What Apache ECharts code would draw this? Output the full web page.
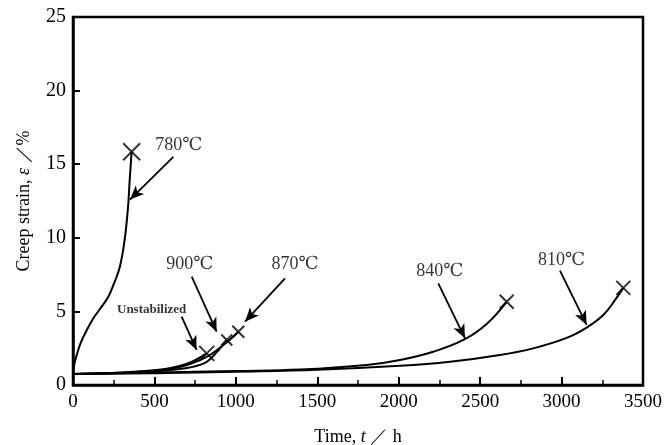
<!DOCTYPE html>
<html>
<head>
<meta charset="utf-8">
<script src="https://cdn.jsdelivr.net/npm/echarts@6/dist/echarts.min.js"></script>
<style>html,body{margin:0;padding:0;background:#fff;}#c{width:666px;height:445px;}</style>
</head>
<body>
<div id="c"></div>
<script>
// ---- data (time h, creep strain %) ----
const s780 = [[0,0.8],[8,1.4],[23,2.04],[45,2.8],[74,3.5],[125,4.53],[176,5.32],[217,6.0],[250,6.85],[287,8.0],[317,9.85],[338,12.1],[348,13.9],[360,15.85]];
const sUnstab = [[0,0.75],[300,0.85],[500,1.0],[600,1.15],[700,1.45],[760,1.75],[821,2.15]];
const s900 = [[0,0.75],[300,0.82],[500,0.93],[600,1.02],[700,1.15],[801,1.45],[841,1.75],[880,2.2],[915,2.65],[944,3.06]];
const s870 = [[0,0.75],[300,0.84],[500,0.97],[600,1.1],[700,1.35],[780,1.7],[841,2.04],[923,2.72],[970,3.15],[1015,3.62]];
const s840 = [[0,0.75],[500,0.85],[1000,0.95],[1394,1.05],[1803,1.36],[2008,1.7],[2212,2.26],[2397,3.06],[2540,4.15],[2663,5.65]];
const s810 = [[0,0.75],[500,0.8],[1000,0.9],[1500,1.03],[2008,1.3],[2315,1.58],[2622,2.04],[2826,2.49],[3031,3.2],[3154,3.9],[3256,4.75],[3330,5.8],[3379,6.6]];
const xTicks = [0,500,1000,1500,2000,2500,3000,3500];
const yTicks = [0,5,10,15,20,25];
// annotations (data coordinates)
const labelTexts = ['780℃','900℃','870℃','840℃','810℃','Unstabilized'];
const labelPos = [[650,16.3],[718,8.2],[1363,8.2],[2253,7.7],[3000,8.5],[483,5.14]];
const arrowFrom = [[616,15.5],[729,7.36],[1302,7.25],[2243,6.9],[2990,7.77],[667,4.64]];
const arrowTo = [[350,12.6],[882,3.62],[1056,4.3],[2407,3.17],[3154,4.08],[759,2.38]];
const endSizes = [17,11,12,14,14,15];

const curves = [s780, s900, s870, s840, s810, sUnstab];
const serif = '"Liberation Serif","DejaVu Serif",serif';
const crossPath = 'path://M0,0L10,10M10,0L0,10';

const series = curves.map(d => ({
  type:'line', data:d, showSymbol:false, smooth:0.4,
  lineStyle:{color:'#000', width:2}, silent:true, animation:false
}));
series.push({
  type:'scatter', animation:false, silent:true,
  data: curves.map((d,i)=>({value:d[d.length-1], symbolSize:endSizes[i]})),
  symbol: crossPath,
  itemStyle:{color:'none', borderColor:'#000', borderWidth:2}
});
series.push({
  type:'scatter', animation:false, silent:true, symbolSize:0,
  data: labelTexts.map((t,i)=>({value:labelPos[i], name:t,
    label: i===5 ? {fontSize:13, fontWeight:'bold'} : {}})),
  label:{show:true, position:'inside', formatter:p=>p.name, color:'#000', fontSize:18, fontFamily:serif},
  markLine:{
    silent:true, animation:false,
    symbol:['none','arrow'], symbolSize:[9,14],
    lineStyle:{color:'#000', width:1.8, type:'solid'},
    label:{show:false},
    data: arrowFrom.map((f,i)=>[{coord:f},{coord:arrowTo[i]}])
  }
});

const chart = echarts.init(document.getElementById('c'), null, {renderer:'canvas'});
chart.setOption({
  backgroundColor:'#fff',
  animation:false,
  grid:{left:73, right:23, top:17, bottom:60, outerBoundsMode:'none', containLabel:false, show:true, borderColor:'#000', borderWidth:2.5, backgroundColor:'transparent'},
  xAxis:[{
    type:'value', min:xTicks[0], max:xTicks[xTicks.length-1], interval:500,
    name:'{a|Time, }{i|t}{a| ／ h}', nameLocation:'middle', nameGap:43,
    nameTextStyle:{rich:{a:{fontFamily:serif, fontSize:18, color:'#000'}, i:{fontFamily:serif, fontSize:18, fontStyle:'italic', color:'#000'}}},
    axisLine:{lineStyle:{color:'#000', width:2.5}},
    axisTick:{inside:true, length:8, lineStyle:{color:'#000', width:2}},
    axisLabel:{fontFamily:serif, fontSize:19, color:'#000', margin:8, formatter:v=>String(v)},
    splitLine:{show:false}
  },{
    type:'value', position:'bottom', min:xTicks[0], max:xTicks[xTicks.length-1], interval:250,
    axisLine:{show:false},
    axisTick:{inside:true, length:5, lineStyle:{color:'#000', width:1.5}},
    axisLabel:{show:false}, splitLine:{show:false}
  }],
  yAxis:{
    type:'value', min:yTicks[0], max:yTicks[yTicks.length-1], interval:5,
    name:'{a|Creep strain, }{i|ε}{a| ／%}', nameLocation:'middle', nameGap:40,
    nameTextStyle:{rich:{a:{fontFamily:serif, fontSize:18, color:'#000'}, i:{fontFamily:serif, fontSize:18, fontStyle:'italic', color:'#000'}}},
    axisLine:{lineStyle:{color:'#000', width:2.5}},
    axisTick:{inside:true, length:7, lineStyle:{color:'#000', width:2}},
    axisLabel:{fontFamily:serif, fontSize:20, color:'#000', margin:7},
    splitLine:{show:false}
  },
  series: series
});
</script>
</body>
</html>
